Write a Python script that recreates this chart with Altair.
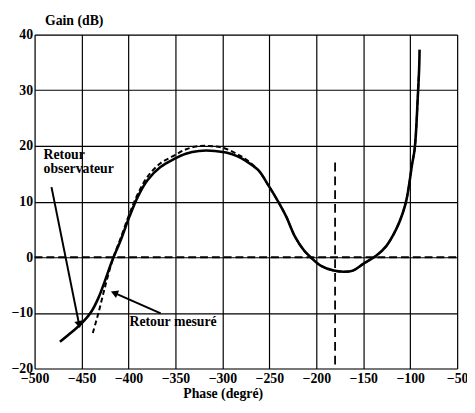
import altair as alt
import pandas as pd

# Solid curve: "Retour observateur"
obs_phase = [-473, -460, -450, -440, -432, -425, -418, -408, -399, -390, -380, -366, -352, -339,
             -325, -308, -296, -285, -275, -261.5, -251, -240.6, -232, -223, -213, -206, -195.4,
             -181.6, -171, -161, -150, -136, -125.5, -115, -108, -104, -101, -98, -95.5, -94,
             -92, -90.5, -90]
obs_gain = [-15.2, -13.4, -11.9, -9.9, -7.3, -4.2, -0.9, 3.2, 7.3, 10.9, 13.8, 16.2, 17.6, 18.6,
            19.1, 19.1, 18.8, 18.2, 17.3, 15.6, 12.9, 10.0, 7.3, 3.8, 1.2, 0.0, -1.5,
            -2.4, -2.6, -2.4, -1.2, 0.3, 2.0, 5.0, 7.9, 10.3, 13.2, 16.7, 19.1, 22.0,
            28.5, 33.8, 37.3]

# Dashed curve: "Retour mesuré"
mes_phase = [-438, -432, -426, -420, -416, -408, -399, -390, -380, -366, -352, -340, -328, -315,
             -300, -285, -275, -261.5, -251, -240.6, -232, -223, -213, -206, -195.4, -181.6,
             -171, -161, -150, -136, -125.5, -115, -108, -104, -101, -98, -95.5, -94, -92, -90.5]
mes_gain = [-13.6, -10.0, -6.0, -2.2, 0.0, 3.6, 7.8, 11.4, 14.4, 16.9, 18.2, 19.3, 19.9, 20.0,
            19.7, 18.6, 17.6, 15.6, 12.9, 10.0, 7.3, 3.8, 1.2, 0.0, -1.5, -2.4,
            -2.6, -2.4, -1.2, 0.3, 2.0, 5.0, 7.9, 10.3, 13.2, 16.7, 19.1, 22.0, 28.5, 33.8]

x_ticks = [-500, -450, -400, -350, -300, -250, -200, -150, -100, -50]
y_ticks = [-20, -10, 0, 10, 20, 30, 40]

# Critical point marker line (-180 deg)
crit_phase = [-180]
crit_gain_top = [17]
crit_gain_bottom = [-20]

# Annotations
label_text = ["Retour", "observateur", "Retour mesuré"]
label_phase = [-490.5, -490.5, -399]
label_gain = [18.4, 15.9, -11.7]

arrow_x0 = [-482, -365.7]
arrow_y0 = [12.6, -10.1]
arrow_x1 = [-452.8, -414]
arrow_y1 = [-11.9, -6.5]
arrow_angle = [168, 292]

FONT = "Liberation Serif"

xs = alt.Scale(domain=[-500, -50], nice=False, zero=False)
ys = alt.Scale(domain=[-20, 40], nice=False, zero=False)

obs_df = pd.DataFrame({"phase": obs_phase, "gain": obs_gain, "o": range(len(obs_phase))})
mes_df = pd.DataFrame({"phase": mes_phase, "gain": mes_gain, "o": range(len(mes_phase))})
crit_df = pd.DataFrame({"phase": crit_phase, "g1": crit_gain_top, "g2": crit_gain_bottom})
zero_df = pd.DataFrame({"gain": [0]})
lab_df = pd.DataFrame({"t": label_text, "phase": label_phase, "gain": label_gain})
arr_df = pd.DataFrame({"x0": arrow_x0, "y0": arrow_y0, "x1": arrow_x1, "y1": arrow_y1,
                       "ang": arrow_angle})

x_axis = alt.Axis(values=x_ticks, grid=True, gridColor="black", gridWidth=1.2, gridOpacity=1,
                  ticks=False, domain=False, labelFlush=False, labelOverlap=False,
                  labelFont=FONT, labelFontWeight="bold", labelFontSize=14, labelColor="black",
                  labelPadding=3, title="Phase (degré)", titleFont=FONT, titleFontWeight="bold",
                  titleFontSize=14, titleColor="black", titleX=191, titleY=25,
                  titleBaseline="middle", titleAlign="center")
y_axis = alt.Axis(values=y_ticks, grid=True, gridColor="black", gridWidth=1.2, gridOpacity=1,
                  ticks=False, domain=False, labelFlush=False, labelOverlap=False,
                  labelFont=FONT, labelFontWeight="bold", labelFontSize=14, labelColor="black",
                  labelPadding=2, labelBaseline="middle",
                  title="Gain (dB)", titleFont=FONT, titleFontWeight="bold", titleFontSize=14,
                  titleColor="black", titleAngle=0, titleX=10, titleY=-14,
                  titleAlign="left", titleBaseline="middle")

base_axes = alt.Chart(zero_df).mark_rule(strokeDash=[8, 4], strokeWidth=2.2, color="black").encode(
    x=alt.value(0), x2=alt.value(429),
    y=alt.Y("gain:Q", scale=ys, axis=y_axis),
)

crit = alt.Chart(crit_df).mark_rule(strokeDash=[9, 5], strokeWidth=1.8, color="black").encode(
    x=alt.X("phase:Q", scale=xs, axis=x_axis),
    y=alt.Y("g1:Q", scale=ys),
    y2="g2:Q",
)

obs_line = alt.Chart(obs_df).mark_line(color="black", strokeWidth=2.6,
                                       interpolate="catmull-rom").encode(
    x=alt.X("phase:Q", scale=xs), y=alt.Y("gain:Q", scale=ys), order="o:Q")

mes_line = alt.Chart(mes_df).mark_line(color="black", strokeWidth=2, strokeDash=[5, 3],
                                       interpolate="catmull-rom").encode(
    x=alt.X("phase:Q", scale=xs), y=alt.Y("gain:Q", scale=ys), order="o:Q")

arrows = alt.Chart(arr_df).mark_rule(color="black", strokeWidth=2).encode(
    x=alt.X("x0:Q", scale=xs), y=alt.Y("y0:Q", scale=ys), x2="x1:Q", y2="y1:Q")

heads = alt.Chart(arr_df).mark_point(shape="triangle", filled=True, color="black", size=70,
                                     opacity=1).encode(
    x=alt.X("x1:Q", scale=xs), y=alt.Y("y1:Q", scale=ys), angle=alt.Angle("ang:Q", scale=None))

labels = alt.Chart(lab_df).mark_text(font=FONT, fontWeight="bold", fontSize=14, align="left",
                                     baseline="middle", color="black").encode(
    x=alt.X("phase:Q", scale=xs), y=alt.Y("gain:Q", scale=ys), text="t:N")

chart = alt.layer(base_axes, crit, mes_line, obs_line, arrows, heads, labels).properties(
    width=429, height=339,
    autosize=alt.AutoSizeParams(type="none"),
    padding={"left": 27, "top": 24, "right": 10, "bottom": 34},
).configure_view(stroke="black", strokeWidth=1.5).configure(background="white")

chart.save("out.html", embed_options={"renderer": "svg", "actions": False})
